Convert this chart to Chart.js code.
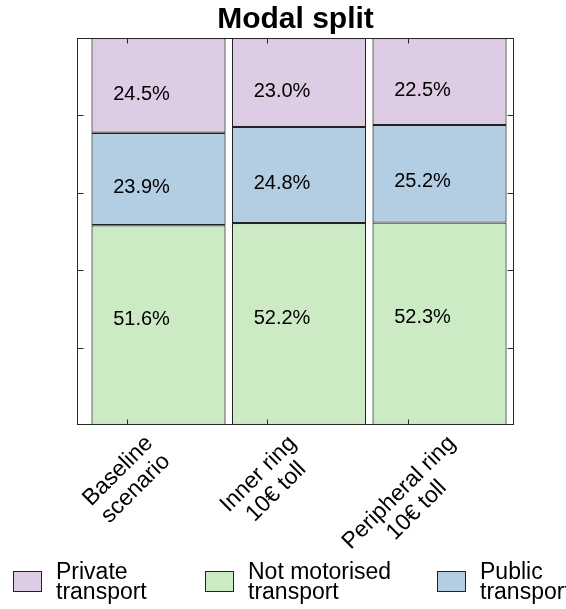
<!DOCTYPE html>
<html>
<head>
<meta charset="utf-8">
<script src="https://cdn.jsdelivr.net/npm/chart.js@4/dist/chart.umd.min.js"></script>
<style>
  body { margin: 0; background: #fff; }
</style>
</head>
<body>
<canvas id="modalChart" width="566" height="609"></canvas>
<script>
// scenarios on the x axis (two-line labels)
const categories = [['Baseline', 'scenario'], ['Inner ring', '10€ toll'], ['Peripheral ring', '10€ toll']];

// modal shares in %
const notMotorised = [51.6, 52.2, 52.3];
const publicTransport = [23.9, 24.8, 25.2];
const privateTransport = [24.5, 23.0, 22.5];

// y ticks (no labels shown, only marks)
const yTicks = [20, 40, 60, 80];

// legend entries, in the order shown under the chart
const legendLabels = [['Private', 'transport'], ['Not motorised', 'transport'], ['Public', 'transport']];

const FONT = '"Liberation Sans", Arial, sans-serif';
const colors = { priv: '#DECBE4', notMot: '#CCEBC5', pub: '#B3CDE3' };
const edge = '#222222';

// axis frame, inward ticks, value labels, rotated x labels and legend
const decorPlugin = {
    id: 'decor',
    afterDatasetsDraw(chart) {
        const { ctx, chartArea: a, scales: { x, y } } = chart;
        ctx.save();

        // percentages inside each segment
        ctx.font = '20px ' + FONT;
        ctx.fillStyle = '#000';
        ctx.textAlign = 'center';
        ctx.textBaseline = 'middle';
        chart.data.datasets.forEach((ds, di) => {
            chart.getDatasetMeta(di).data.forEach((bar, i) => {
                const mid = (bar.y + bar.base) / 2;
                ctx.fillText(ds.data[i].y.toFixed(1) + '%', bar.x - 17, mid + ds.labelShift);
            });
        });

        // frame
        ctx.strokeStyle = '#262626';
        ctx.lineWidth = 1;
        const l = Math.round(a.left) + 0.5, r = Math.round(a.right) - 0.5;
        const t = Math.round(a.top) + 0.5, b = Math.round(a.bottom) - 0.5;
        ctx.strokeRect(l, t, r - l, b - t);

        // inward ticks
        ctx.beginPath();
        yTicks.forEach(v => {
            const py = Math.round(y.getPixelForValue(v)) + 0.5;
            ctx.moveTo(l, py); ctx.lineTo(l + 6, py);
            ctx.moveTo(r, py); ctx.lineTo(r - 6, py);
        });
        x.ticks.forEach(tk => {
            const px = Math.round(x.getPixelForValue(tk.value)) + 0.5;
            ctx.moveTo(px, t); ctx.lineTo(px, t + 5);
            ctx.moveTo(px, b); ctx.lineTo(px, b - 5);
        });
        ctx.stroke();

        // rotated, centred x labels
        ctx.font = '23px ' + FONT;
        const lineH = 25;
        x.ticks.forEach((tk, i) => {
            const lines = categories[i];
            const L = Math.max(...lines.map(s => ctx.measureText(s).width));
            const H = lines.length * lineH;
            const cx = x.getPixelForValue(tk.value);
            const cy = a.bottom + 6 + Math.SQRT1_2 * (L / 2 + H / 2);
            ctx.save();
            ctx.translate(cx, cy);
            ctx.rotate(-Math.PI / 4);
            lines.forEach((s, j) => ctx.fillText(s, 0, (j - (lines.length - 1) / 2) * lineH));
            ctx.restore();
        });

        // legend
        const legendColors = [colors.priv, colors.notMot, colors.pub];
        const boxX = [13, 205, 437];
        ctx.font = '23px ' + FONT;
        ctx.textAlign = 'left';
        ctx.textBaseline = 'alphabetic';
        legendLabels.forEach((lines, i) => {
            ctx.fillStyle = legendColors[i];
            ctx.fillRect(boxX[i], 571, 29, 21);
            ctx.strokeStyle = edge;
            ctx.strokeRect(boxX[i] + 0.5, 571.5, 28, 20);
            ctx.fillStyle = '#000';
            lines.forEach((s, j) => ctx.fillText(s, boxX[i] + 43, 579 + j * 20));
        });

        ctx.restore();
    }
};

const toPoints = arr => arr.map((v, i) => ({ x: i, y: v }));

const ctx = document.getElementById('modalChart').getContext('2d');
new Chart(ctx, {
    type: 'bar',
    data: {
        datasets: [
            { label: 'Not motorised transport', data: toPoints(notMotorised), backgroundColor: colors.notMot, labelShift: -6 },
            { label: 'Public transport', data: toPoints(publicTransport), backgroundColor: colors.pub, labelShift: 8 },
            { label: 'Private transport', data: toPoints(privateTransport), backgroundColor: colors.priv, labelShift: 9 }
        ].map(ds => Object.assign(ds, {
            borderColor: edge,
            borderWidth: 1.2,
            borderSkipped: false,
            categoryPercentage: 1,
            barPercentage: 0.955
        }))
    },
    options: {
        responsive: false,
        animation: false,
        layout: { padding: { left: 77, right: 52, top: 0, bottom: 184 } },
        scales: {
            x: {
                type: 'linear',
                stacked: true,
                offset: false,
                bounds: 'data',
                min: -0.58,
                max: 2.53,
                display: false,
                // tick marks sit a little left of each bar centre
                afterBuildTicks: scale => {
                    scale.ticks = categories.map((c, i) => ({ value: i - 0.225 }));
                }
            },
            y: {
                stacked: true,
                min: 0,
                max: 100,
                display: false
            }
        },
        plugins: {
            legend: { display: false },
            tooltip: { enabled: false },
            title: {
                display: true,
                text: 'Modal split',
                color: '#000',
                fullSize: false,
                font: { family: FONT, size: 30, weight: 'bold' },
                padding: { top: 2, bottom: 0 }
            }
        }
    },
    plugins: [decorPlugin]
});
</script>
</body>
</html>
